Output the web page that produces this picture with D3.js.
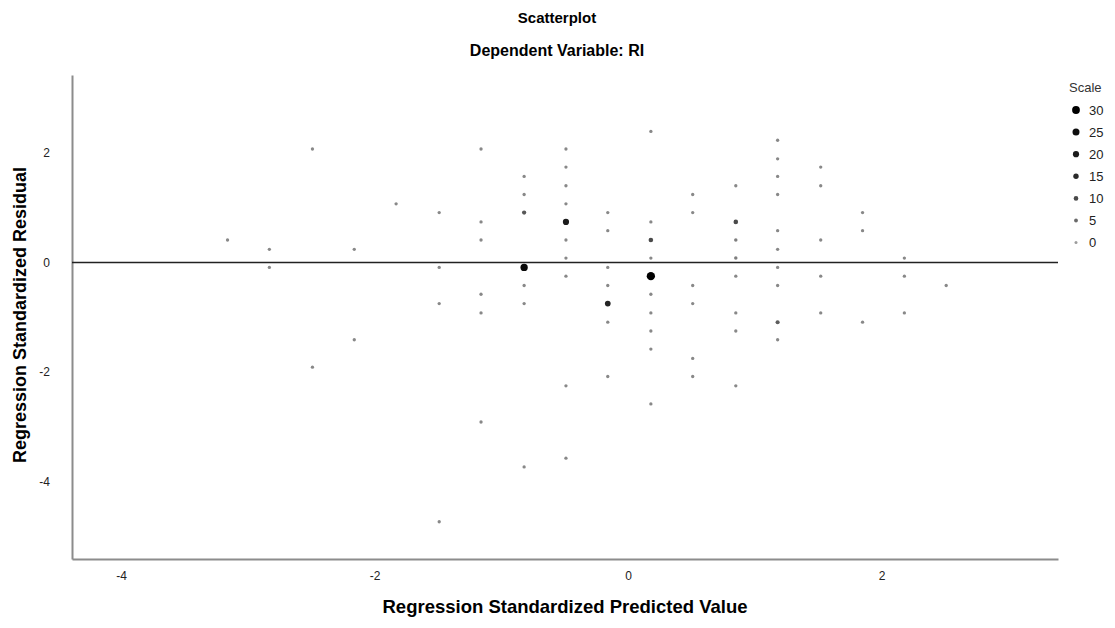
<!DOCTYPE html>
<html>
<head>
<meta charset="utf-8">
<style>
  body { margin: 0; background: #fff; }
  text { font-family: "Liberation Sans", Arial, sans-serif; }
</style>
<script src="https://d3js.org/d3.v7.min.js"></script>
</head>
<body>
<script>
// predicted value columns (x) and the residuals found in each column
const predicted = [-3.16, -2.83, -2.49, -2.16, -1.83, -1.49, -1.16, -0.82, -0.49, -0.16,
                   0.18, 0.51, 0.85, 1.18, 1.52, 1.85, 2.18, 2.51];
const residuals = [
  [0.41],
  [0.24, -0.09],
  [2.07, -1.91],
  [0.24, -1.41],
  [1.07],
  [0.91, -0.09, -0.75, -4.73],
  [2.07, 0.74, 0.41, -0.58, -0.92, -2.91],
  [1.57, 1.24, 0.91, -0.09, -0.42, -0.75, -3.73],
  [2.07, 1.74, 1.40, 1.07, 0.74, 0.41, 0.08, -0.25, -2.25, -3.57],
  [0.91, 0.58, -0.09, -0.42, -0.75, -1.09, -2.08],
  [2.39, 0.74, 0.41, 0.08, -0.25, -0.58, -0.92, -1.25, -1.58, -2.58],
  [1.24, 0.91, -0.42, -0.75, -1.75, -2.08],
  [1.40, 0.74, 0.41, 0.08, -0.25, -0.92, -1.25, -2.25],
  [2.23, 1.89, 1.57, 1.24, 0.58, 0.24, -0.09, -0.42, -1.09, -1.41],
  [1.74, 1.40, 0.41, -0.25, -0.92],
  [0.91, 0.58, -1.09],
  [0.08, -0.25, -0.92],
  [-0.42]
];
// number of cases stacked on each point (same shape as residuals)
const counts = [
  [2],
  [2, 2],
  [2, 2],
  [2, 2],
  [2],
  [2, 2, 2, 2],
  [2, 2, 2, 2, 2, 2],
  [2, 2, 8, 27, 2, 2, 2],
  [2, 2, 2, 2, 20, 2, 2, 2, 2, 2],
  [2, 2, 2, 2, 17, 2, 2],
  [2, 2, 10, 2, 33, 2, 2, 2, 2, 2],
  [2, 2, 2, 2, 2, 2],
  [2, 10, 3, 3, 2, 2, 2, 2],
  [2, 2, 2, 2, 2, 2, 2, 2, 7, 2],
  [2, 2, 2, 2, 2],
  [2, 2, 2],
  [2, 2, 2],
  [2]
];
const xTicks = [-4, -2, 0, 2];
const yTicks = [2, 0, -2, -4];
const legendCounts = [30, 25, 20, 15, 10, 5, 0];

const w = 1115, h = 628;
const svg = d3.select("body").append("svg").attr("width", w).attr("height", h);

const x = d3.scaleLinear().domain([-4.387, 3.392]).range([72, 1058]);
const y = d3.scaleLinear().domain([3.42, -5.41]).range([75, 559]);
const r = d3.scaleLinear().domain([0, 30]).range([1.5, 3.9]);
const shade = d3.scaleLinear().domain([0, 5, 15, 30]).range(["#9c9c9c", "#6a6a6a", "#2a2a2a", "#000"]);
const fmt = d => String(d);

const points = [];
predicted.forEach((px, i) => {
  residuals[i].forEach((ry, j) => points.push({x: px, y: ry, n: counts[i][j]}));
});

// titles
svg.append("text").attr("x", 557).attr("y", 23).attr("text-anchor", "middle")
  .style("font-size", "15px").style("font-weight", "bold").text("Scatterplot");
svg.append("text").attr("x", 557).attr("y", 56).attr("text-anchor", "middle")
  .style("font-size", "16px").style("font-weight", "bold").text("Dependent Variable: RI");

// axes
const xAxis = svg.append("g").attr("transform", "translate(0,559)")
  .call(d3.axisBottom(x).tickValues(xTicks).tickFormat(fmt).tickSize(0).tickPadding(12));
const yAxis = svg.append("g").attr("transform", "translate(72,0)")
  .call(d3.axisLeft(y).tickValues(yTicks).tickFormat(fmt).tickSize(0).tickPadding(22));
[xAxis, yAxis].forEach(g => {
  g.select(".domain").attr("stroke", "#8c8c8c").attr("stroke-width", 2);
  g.selectAll("text").style("font-size", "12px").attr("fill", "#222")
    .style("font-family", "'Liberation Sans', Arial, sans-serif");
});

// reference line at 0
svg.append("line").attr("x1", x(-4.387)).attr("x2", x(3.392))
  .attr("y1", y(0)).attr("y2", y(0)).attr("stroke", "#222").attr("stroke-width", 1.5);

// points
svg.selectAll("circle.pt").data(points).enter().append("circle")
  .attr("class", "pt")
  .attr("cx", d => x(d.x)).attr("cy", d => y(d.y))
  .attr("r", d => r(d.n)).attr("fill", d => shade(d.n));

// axis titles
svg.append("text").attr("x", 565).attr("y", 613).attr("text-anchor", "middle")
  .style("font-size", "18.5px").style("font-weight", "bold")
  .text("Regression Standardized Predicted Value");
svg.append("text").attr("transform", "translate(26,315) rotate(-90)").attr("text-anchor", "middle")
  .style("font-size", "18px").style("font-weight", "bold")
  .text("Regression Standardized Residual");

// size legend
svg.append("text").attr("x", 1069).attr("y", 92).style("font-size", "13px").attr("fill", "#333").text("Scale");
const lg = svg.selectAll("g.lg").data(legendCounts).enter().append("g")
  .attr("class", "lg").attr("transform", (d, i) => "translate(1076," + (110 + i * 22.1) + ")");
lg.append("circle").attr("r", d => r(d)).attr("fill", d => shade(d));
lg.append("text").attr("x", 13).attr("y", 4.5).style("font-size", "13px").attr("fill", "#222").text(d => d);
</script>
</body>
</html>
